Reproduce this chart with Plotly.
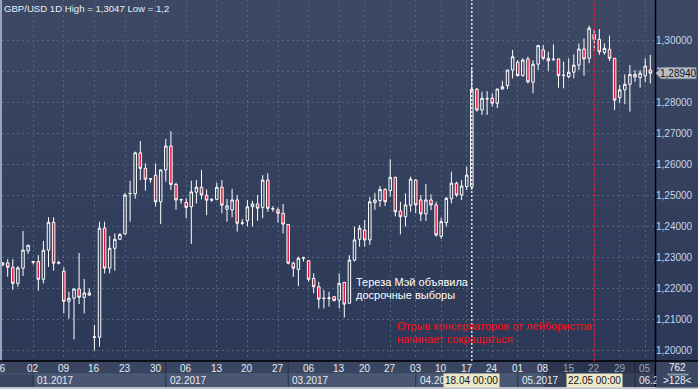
import plotly.graph_objects as go

# ---------------- data ----------------
opens = [1.2275, 1.2282, 1.2268, 1.2216, 1.2265, 1.2321, 1.2284, 1.2286, 1.2229, 1.2323,
         1.2413, 1.2281, 1.2255, 1.2158, 1.2168, 1.2198, 1.2171, 1.2185, 1.2042, 1.2042,
         1.2394, 1.2265, 1.2329, 1.2358, 1.2376, 1.2505, 1.2505, 1.2637, 1.2587, 1.2552,
         1.2565, 1.2479, 1.2582, 1.2659, 1.2535, 1.2485, 1.2477, 1.2463, 1.2510, 1.2526,
         1.2500, 1.2486, 1.2487, 1.2526, 1.2455, 1.2453, 1.2485, 1.2410, 1.2418, 1.2463,
         1.2472, 1.2461, 1.2549, 1.2456, 1.2453, 1.2442, 1.2406, 1.2281, 1.2261, 1.2297,
         1.2289, 1.2232, 1.2205, 1.2167, 1.2167, 1.2173, 1.2162, 1.2219, 1.2152, 1.2291,
         1.2358, 1.2388, 1.2356, 1.2476, 1.2483, 1.2519, 1.2515, 1.2558, 1.2449, 1.2431,
         1.2468, 1.2549, 1.2485, 1.2440, 1.2485, 1.2469, 1.2368, 1.2412, 1.2489, 1.2539,
         1.2501, 1.2528, 1.2527, 1.2842, 1.2775, 1.2811, 1.2813, 1.2797, 1.2843, 1.2854,
         1.2904, 1.2929, 1.2886, 1.2940, 1.2865, 1.2923, 1.2969, 1.2942, 1.2938, 1.2940,
         1.2886, 1.2883, 1.2897, 1.2920, 1.2972, 1.2942, 1.3019, 1.3003, 1.2961, 1.2971,
         1.2942, 1.2815, 1.2840, 1.2858, 1.2890, 1.2880, 1.2885, 1.2904]
highs = [1.2285, 1.2294, 1.2294, 1.2272, 1.2385, 1.2339, 1.2288, 1.2307, 1.2353, 1.2429,
         1.2429, 1.2289, 1.2268, 1.2189, 1.2198, 1.2314, 1.2230, 1.2200, 1.2082, 1.2415,
         1.2415, 1.2369, 1.2377, 1.2377, 1.2508, 1.2547, 1.2641, 1.2675, 1.2603, 1.2554,
         1.2603, 1.2582, 1.2682, 1.2707, 1.2541, 1.2489, 1.2491, 1.2547, 1.2549, 1.2582,
         1.2519, 1.2491, 1.2541, 1.2549, 1.2488, 1.2521, 1.2501, 1.2423, 1.2485, 1.2482,
         1.2501, 1.2565, 1.2571, 1.2465, 1.2461, 1.2472, 1.2406, 1.2286, 1.2302, 1.2302,
         1.2289, 1.2248, 1.2221, 1.2195, 1.2189, 1.2175, 1.2248, 1.2219, 1.2307, 1.2399,
         1.2404, 1.2420, 1.2495, 1.2508, 1.2530, 1.2523, 1.2616, 1.2560, 1.2479, 1.2506,
         1.2560, 1.2552, 1.2501, 1.2537, 1.2503, 1.2479, 1.2428, 1.2495, 1.2576, 1.2544,
         1.2549, 1.2592, 1.2907, 1.2846, 1.2834, 1.2836, 1.2829, 1.2843, 1.2869, 1.2904,
         1.2969, 1.2936, 1.2942, 1.2947, 1.2936, 1.2985, 1.2985, 1.2963, 1.2987, 1.2940,
         1.2931, 1.2942, 1.2955, 1.2990, 1.3006, 1.3047, 1.3036, 1.3036, 1.2990, 1.3015,
         1.2942, 1.2856, 1.2890, 1.2920, 1.2904, 1.2904, 1.2942, 1.2953]
lows = [1.2272, 1.2237, 1.2195, 1.2205, 1.2240, 1.2311, 1.2277, 1.2192, 1.2216, 1.2269,
        1.2257, 1.2277, 1.2119, 1.2102, 1.2035, 1.2149, 1.2119, 1.2177, 1.2000, 1.2012,
        1.2248, 1.2248, 1.2257, 1.2357, 1.2372, 1.2415, 1.2489, 1.2549, 1.2515, 1.2541,
        1.2463, 1.2407, 1.2544, 1.2517, 1.2453, 1.2473, 1.2426, 1.2343, 1.2474, 1.2487,
        1.2436, 1.2479, 1.2485, 1.2442, 1.2415, 1.2429, 1.2383, 1.2404, 1.2399, 1.2399,
        1.2418, 1.2426, 1.2447, 1.2447, 1.2412, 1.2377, 1.2277, 1.2237, 1.2207, 1.2286,
        1.2221, 1.2184, 1.2135, 1.2135, 1.2141, 1.2159, 1.2135, 1.2106, 1.2150, 1.2286,
        1.2334, 1.2334, 1.2340, 1.2453, 1.2463, 1.2465, 1.2495, 1.2432, 1.2374, 1.2399,
        1.2447, 1.2442, 1.2417, 1.2417, 1.2452, 1.2366, 1.2359, 1.2399, 1.2474, 1.2495,
        1.2485, 1.2517, 1.2517, 1.2770, 1.2759, 1.2759, 1.2786, 1.2781, 1.2840, 1.2843,
        1.2877, 1.2883, 1.2883, 1.2861, 1.2829, 1.2904, 1.2936, 1.2901, 1.2933, 1.2847,
        1.2845, 1.2877, 1.2877, 1.2904, 1.2886, 1.2926, 1.2965, 1.2953, 1.2953, 1.2933,
        1.2775, 1.2797, 1.2794, 1.2770, 1.2866, 1.2847, 1.2865, 1.2861]
closes = [1.2282, 1.2268, 1.2216, 1.2266, 1.2323, 1.2339, 1.2286, 1.2229, 1.2323, 1.2413,
          1.2281, 1.2283, 1.2158, 1.2168, 1.2198, 1.2171, 1.2185, 1.2178, 1.2043, 1.2394,
          1.2265, 1.2329, 1.2358, 1.2374, 1.2501, 1.2506, 1.2637, 1.2587, 1.2552, 1.2553,
          1.2479, 1.2582, 1.2659, 1.2535, 1.2485, 1.2486, 1.2461, 1.2511, 1.2526, 1.2501,
          1.2484, 1.2485, 1.2526, 1.2468, 1.2466, 1.2485, 1.2410, 1.2411, 1.2463, 1.2472,
          1.2458, 1.2549, 1.2458, 1.2457, 1.2442, 1.2407, 1.2281, 1.2265, 1.2297, 1.2298,
          1.2229, 1.2205, 1.2165, 1.2168, 1.2169, 1.2160, 1.2216, 1.2149, 1.2291, 1.2356,
          1.2394, 1.2356, 1.2479, 1.2485, 1.2519, 1.2479, 1.2558, 1.2447, 1.2431, 1.2469,
          1.2552, 1.2469, 1.2440, 1.2485, 1.2469, 1.2372, 1.2415, 1.2490, 1.2539, 1.2501,
          1.2530, 1.2565, 1.2842, 1.2775, 1.2813, 1.2812, 1.2797, 1.2843, 1.2850, 1.2904,
          1.2947, 1.2886, 1.2936, 1.2866, 1.2923, 1.2983, 1.2942, 1.2934, 1.2939, 1.2886,
          1.2887, 1.2897, 1.2920, 1.2972, 1.2940, 1.3039, 1.3003, 1.2963, 1.2974, 1.2942,
          1.2807, 1.2840, 1.2858, 1.2890, 1.2882, 1.2894, 1.2917, 1.2894]
bar_index = list(range(len(opens)))

day_tick_pos = [0, 6, 12, 18, 24, 30, 36, 42, 48, 54, 60, 66, 71, 76, 81, 86, 91, 96,
                101, 106, 111, 116, 121, 126]
day_tick_labels = ['26', '02', '09', '16', '23', '30', '06', '13', '20', '27', '06', '13',
                   '20', '27', '03', '10', '17', '24', '01', '08', '15', '22', '29', '05']
month_start_pos = [6, 32, 56, 81, 101, 124]
month_labels = ['01.2017', '02.2017', '03.2017', '04.2017', '05.2017', '06.2017']
price_ticks = [1.20, 1.21, 1.22, 1.23, 1.24, 1.25, 1.26, 1.27, 1.28, 1.29, 1.30]
last_price = 1.2894
last_price_label = '1,28940'
title_text = 'GBP/USD 1D High = 1,3047 Low = 1,2'
marker1_pos, marker1_label = 92, '18.04 00:00'
marker2_pos, marker2_label = 116, '22.05 00:00'
note_white = ['Тереза Мэй объявила', 'досрочные выборы']
note_red = ['Отрыв консерваторов от лейбористов', 'начинает сокращаться']
bars_total, bars_visible = '762', '&gt;128&lt;'

# ---------------- layout geometry ----------------
W, H = 698, 389
ML, MR, MT, MB = 2, 43, 0, 28
PW, PH = W - ML - MR, H - MT - MB
X0, X1 = -0.1176, 127.92
Y0, Y1 = 1.19655, 1.3130


def pxx(x):  # canvas px -> paper x
    return (x - ML) / PW


def pxy(y):  # canvas px (from top) -> paper y
    return (PH + MT - y) / PH


def dxp(i):  # bar index -> paper x
    return (i - X0) / (X1 - X0)


SMALL = 'Arial, Liberation Sans'
SANS = 'Arial, Liberation Sans'
FS = 10
GRID = '#56637f'

fig = go.Figure(go.Candlestick(
    x=bar_index, open=opens, high=highs, low=lows, close=closes,
    increasing=dict(line=dict(color='#ffffff', width=1), fillcolor='rgba(0,0,0,0)'),
    decreasing=dict(line=dict(color='#ffffff', width=1), fillcolor='#e3173d'),
    whiskerwidth=0, showlegend=False, hoverinfo='skip'))

shapes = []
# gradient background for chart + price panel
N = 40
top, bot = (61, 73, 100), (43, 56, 87)
for k in range(N):
    t = (k + 0.5) / N
    c = tuple(round(top[j] + (bot[j] - top[j]) * t) for j in range(3))
    ya, yb = PH * k / N, PH * (k + 1) / N + 0.6
    shapes.append(dict(type='rect', xref='paper', yref='paper', x0=pxx(0), x1=pxx(W),
                       y0=pxy(yb), y1=pxy(ya), fillcolor='rgb(%d,%d,%d)' % c,
                       line=dict(width=0), layer='below'))
# left light border
shapes.append(dict(type='rect', xref='paper', yref='paper', x0=pxx(0), x1=pxx(2),
                   y0=pxy(PH), y1=pxy(0), fillcolor='#9aa4b6', line=dict(width=0), layer='below'))
# bottom time axis rows
shapes.append(dict(type='rect', xref='paper', yref='paper', x0=pxx(0), x1=pxx(655),
                   y0=pxy(387), y1=pxy(361), fillcolor='#3a4661', line=dict(width=0)))
for k, s in enumerate(month_start_pos):
    e = month_start_pos[k + 1] if k + 1 < len(month_start_pos) else X1
    shapes.append(dict(type='rect', xref='paper', yref='paper', x0=dxp(s), x1=min(dxp(e), 1),
                       y0=pxy(387), y1=pxy(374), fillcolor='#4a5772',
                       line=dict(width=0)))
    shapes.append(dict(type='line', xref='paper', yref='paper', x0=dxp(s), x1=dxp(s),
                       y0=pxy(387), y1=pxy(361), line=dict(color='#27303f', width=1)))
shapes.append(dict(type='line', xref='paper', yref='paper', x0=pxx(0), x1=pxx(655),
                   y0=pxy(374), y1=pxy(374), line=dict(color='#4f5c76', width=1)))
# dimmed selection region in the time axis
shapes.append(dict(type='rect', xref='paper', yref='paper', x0=pxx(544), x1=pxx(655),
                   y0=pxy(387), y1=pxy(361), fillcolor='rgba(18,24,40,0.35)', line=dict(width=0)))
# bottom border
shapes.append(dict(type='rect', xref='paper', yref='paper', x0=pxx(0), x1=pxx(W),
                   y0=pxy(H), y1=pxy(387), fillcolor='#b9c1cd', line=dict(width=0)))
# corner cell
shapes.append(dict(type='rect', xref='paper', yref='paper', x0=pxx(655), x1=pxx(W),
                   y0=pxy(387), y1=pxy(361), fillcolor='#3b4762', line=dict(width=0)))
# separators (black)
shapes.append(dict(type='line', xref='paper', yref='paper', x0=pxx(655.5), x1=pxx(655.5),
                   y0=pxy(387), y1=pxy(0), line=dict(color='#000000', width=1.5)))
shapes.append(dict(type='line', xref='paper', yref='paper', x0=pxx(0), x1=pxx(W),
                   y0=pxy(361), y1=pxy(361), line=dict(color='#000000', width=1.5)))
# event lines
shapes.append(dict(type='line', xref='x', yref='paper', x0=marker1_pos, x1=marker1_pos,
                   y0=0, y1=1, line=dict(color='#ffffff', width=1.3, dash='2px,2px')))
shapes.append(dict(type='line', xref='x', yref='paper', x0=marker2_pos, x1=marker2_pos,
                   y0=0, y1=1, line=dict(color='#e8102a', width=1.2, dash='3px,2px')))
# last price marker
ylp = (Y1 - last_price) / (Y1 - Y0) * PH + MT
shapes.append(dict(type='path', xref='paper', yref='paper',
                   path='M %f %f L %f %f L %f %f L %f %f L %f %f Z' % (
                       pxx(656), pxy(ylp), pxx(661), pxy(ylp - 5.5), pxx(696), pxy(ylp - 5.5),
                       pxx(696), pxy(ylp + 5.5), pxx(661), pxy(ylp + 5.5)),
                   fillcolor='#b8bec9', line=dict(color='#8e96a4', width=1)))
# corner separator
shapes.append(dict(type='line', xref='paper', yref='paper', x0=pxx(667), x1=pxx(687),
                   y0=pxy(374), y1=pxy(374), line=dict(color='#8a96aa', width=1)))

ann = []
ann.append(dict(text=title_text, xref='paper', yref='paper', x=pxx(2), y=pxy(8.5),
                xanchor='left', yanchor='middle', showarrow=False,
                font=dict(family=SMALL, size=9.6, color='#e9eef5')))
for k, line in enumerate(note_white):
    ann.append(dict(text=line, xref='paper', yref='paper', x=pxx(355), y=pxy(281.7 + 13.3 * k),
                    xanchor='left', yanchor='middle', showarrow=False, borderpad=0,
                    font=dict(family=SANS, size=11, color='#ffffff')))
for k, line in enumerate(note_red):
    ann.append(dict(text=line, xref='paper', yref='paper', x=pxx(396), y=pxy(325.7 + 13.3 * k),
                    xanchor='left', yanchor='middle', showarrow=False, borderpad=0,
                    font=dict(family=SANS, size=11, color='#ff1010')))
for pos, lab in zip(day_tick_pos, day_tick_labels):
    col = '#9aa3b3' if dxp(pos) > pxx(552) else '#e6ebf2'
    shift = -3 if dxp(pos) < pxx(8) else 0   # first label is cut by the left edge
    ann.append(dict(text=lab, xref='x', yref='paper', x=pos, y=pxy(368), xshift=shift,
                    xanchor='center', yanchor='middle', showarrow=False,
                    font=dict(family=SMALL, size=FS, color=col)))
for pos, lab in zip(month_start_pos, month_labels):
    ann.append(dict(text=lab, xref='x', yref='paper', x=pos, y=pxy(380.5), xshift=2,
                    xanchor='left', yanchor='middle', showarrow=False,
                    font=dict(family=SMALL, size=FS, color='#e6ebf2')))
for pos, lab in [(marker1_pos, marker1_label), (marker2_pos, marker2_label)]:
    ann.append(dict(text=lab, xref='x', yref='paper', x=pos, y=pxy(381),
                    xanchor='center', yanchor='middle', showarrow=False, borderpad=1,
                    bgcolor='#ebe7c9', font=dict(family=SMALL, size=FS, color='#151515')))
# corner cell cover + texts
ann.append(dict(text='', xref='paper', yref='paper', x=pxx(656.2), y=pxy(361.8),
                xanchor='left', yanchor='top', showarrow=False, width=41, height=24,
                borderpad=0, bgcolor='#3b4762'))
ann.append(dict(text=bars_total, xref='paper', yref='paper', x=pxx(677), y=pxy(367.5),
                xanchor='center', yanchor='middle', showarrow=False,
                font=dict(family=SMALL, size=FS, color='#eef2f7')))
ann.append(dict(text=bars_visible, xref='paper', yref='paper', x=pxx(677), y=pxy(381),
                xanchor='center', yanchor='middle', showarrow=False,
                font=dict(family=SMALL, size=FS, color='#eef2f7')))
ann.append(dict(text='', xref='paper', yref='paper', x=pxx(667), y=pxy(374),
                xanchor='left', yanchor='middle', showarrow=False, width=20, height=1,
                borderpad=0, bgcolor='#8a96aa'))
ann.append(dict(text=last_price_label, xref='paper', yref='paper', x=pxx(678.5), y=pxy(ylp),
                xanchor='center', yanchor='middle', showarrow=False,
                font=dict(family=SMALL, size=FS, color='#111111')))

fig.update_layout(
    width=W, height=H, margin=dict(l=ML, r=MR, t=MT, b=MB, pad=0, autoexpand=False),
    paper_bgcolor='#2f3b58', plot_bgcolor='rgba(0,0,0,0)',
    separators=', ', showlegend=False,
    shapes=shapes, annotations=ann,
    xaxis=dict(range=[X0, X1], tickvals=day_tick_pos, showticklabels=False, ticks='',
               showgrid=True, gridcolor=GRID, gridwidth=1, griddash='2px,3px',
               zeroline=False, showline=False, rangeslider=dict(visible=False),
               fixedrange=True, automargin=False),
    yaxis=dict(range=[Y0, Y1], side='right', tickvals=price_ticks, tickformat='.5f',
               ticks='', showgrid=True, gridcolor=GRID, gridwidth=1, griddash='2px,3px',
               zeroline=False, showline=False, fixedrange=True, automargin=False,
               tickfont=dict(family=SMALL, size=FS, color='#c6d5ec')),
)

fig.write_html('out.html', config={'displayModeBar': False},
               post_script="document.body.style.margin='0';document.body.style.overflow='hidden';")
